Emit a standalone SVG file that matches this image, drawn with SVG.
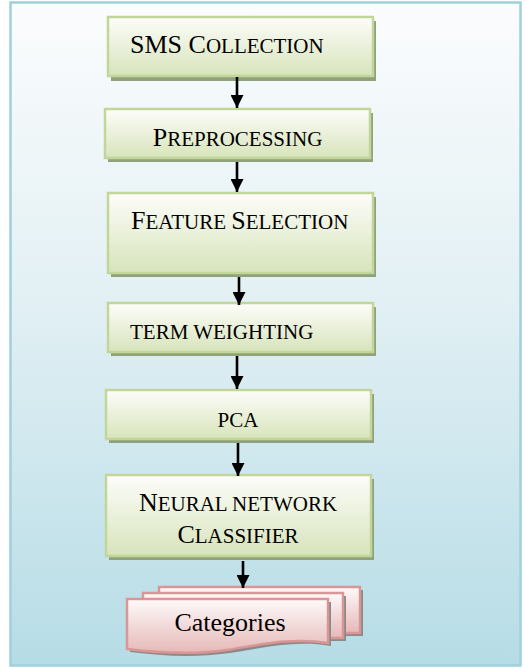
<svg xmlns="http://www.w3.org/2000/svg" width="525" height="668" viewBox="0 0 525 668">
<defs>
<linearGradient id="bg" x1="0" y1="0" x2="0" y2="1">
<stop offset="0" stop-color="#fbfcfd"/>
<stop offset="0.45" stop-color="#e2f0f4"/>
<stop offset="1" stop-color="#b6dce6"/>
</linearGradient>
<linearGradient id="gr" x1="0" y1="0" x2="0" y2="1">
<stop offset="0" stop-color="#fdfdfa"/>
<stop offset="1" stop-color="#d7e4bb"/>
</linearGradient>
<linearGradient id="pk" x1="0" y1="0" x2="0" y2="1">
<stop offset="0" stop-color="#fefafa"/>
<stop offset="1" stop-color="#e6b8b8"/>
</linearGradient>
<marker id="ah" viewBox="0 0 10 10" refX="10" refY="5" markerWidth="5" markerHeight="5" markerUnits="strokeWidth" orient="auto">
<path d="M0,0 L10,5 L0,10 Z" fill="#000"/>
</marker>
</defs>
<style>
.box{fill:url(#gr);stroke:#c2d69a;stroke-width:2.5}
.sh{fill:#8fa27c}
.doc{fill:url(#pk);stroke:#d99694;stroke-width:2.5}
.dsh{fill:#8a8a8a}
.t{font-family:"Liberation Serif","Times New Roman",serif;font-size:26px;fill:#000}
.s{font-size:21px}
.c{stroke:#000;stroke-width:2.6;fill:none;marker-end:url(#ah)}
</style>
<rect x="10.5" y="2.5" width="510" height="663" fill="url(#bg)" stroke="#9fd0dc" stroke-width="2.5"/>

<g id="n1">
<rect class="sh" x="111" y="21" width="265" height="60"/>
<rect class="box" x="108" y="17" width="265" height="59"/>
<text class="t" x="130" y="53">SMS C<tspan class="s">OLLECTION</tspan></text>
</g>
<g id="n2">
<rect class="sh" x="108" y="113" width="265" height="49"/>
<rect class="box" x="105" y="109" width="265" height="49"/>
<text class="t" x="237.5" y="146" text-anchor="middle">P<tspan class="s">REPROCESSING</tspan></text>
</g>
<g id="n3">
<rect class="sh" x="111" y="197" width="265" height="80"/>
<rect class="box" x="108" y="193" width="265" height="80"/>
<text class="t" x="131" y="229">F<tspan class="s">EATURE </tspan>S<tspan class="s">ELECTION</tspan></text>
</g>
<g id="n4">
<rect class="sh" x="111" y="307" width="265" height="49"/>
<rect class="box" x="108" y="303" width="265" height="49"/>
<text class="t s" x="130" y="339">TERM WEIGHTING</text>
</g>
<g id="n5">
<rect class="sh" x="109" y="394" width="265" height="49"/>
<rect class="box" x="106" y="390" width="265" height="49"/>
<text class="t s" x="238" y="427" text-anchor="middle">PCA</text>
</g>
<g id="n6">
<rect class="sh" x="109" y="479" width="265" height="81"/>
<rect class="box" x="106" y="475" width="265" height="81"/>
<text class="t" x="238" y="511" text-anchor="middle">N<tspan class="s">EURAL NETWORK</tspan></text>
<text class="t" x="238" y="543" text-anchor="middle">C<tspan class="s">LASSIFIER</tspan></text>
</g>
<g id="n7">
<rect class="dsh" x="162" y="590" width="201" height="46"/>
<rect class="doc" x="159" y="587" width="201" height="46"/>
<rect class="dsh" x="146" y="596" width="200" height="45"/>
<rect class="doc" x="143" y="593" width="200" height="45"/>
<path class="dsh" d="M130,602 H331 V646 C295,640 262,648 230,653 C195,658 162,656 130,652 Z"/>
<path class="doc" d="M127,599 H328 V643 C292,637 259,645 227,650 C192,655 159,653 127,649 Z"/>
<text class="t" x="230" y="631" text-anchor="middle">Categories</text>
</g>

<g id="connectors">
<line class="c" x1="237" y1="77" x2="237" y2="108"/>
<line class="c" x1="237" y1="162" x2="237" y2="192"/>
<line class="c" x1="239" y1="277" x2="239" y2="305"/>
<line class="c" x1="237" y1="356" x2="237" y2="389"/>
<line class="c" x1="238" y1="443" x2="238" y2="476"/>
<line class="c" x1="243" y1="561" x2="243" y2="588"/>
</g>
</svg>
